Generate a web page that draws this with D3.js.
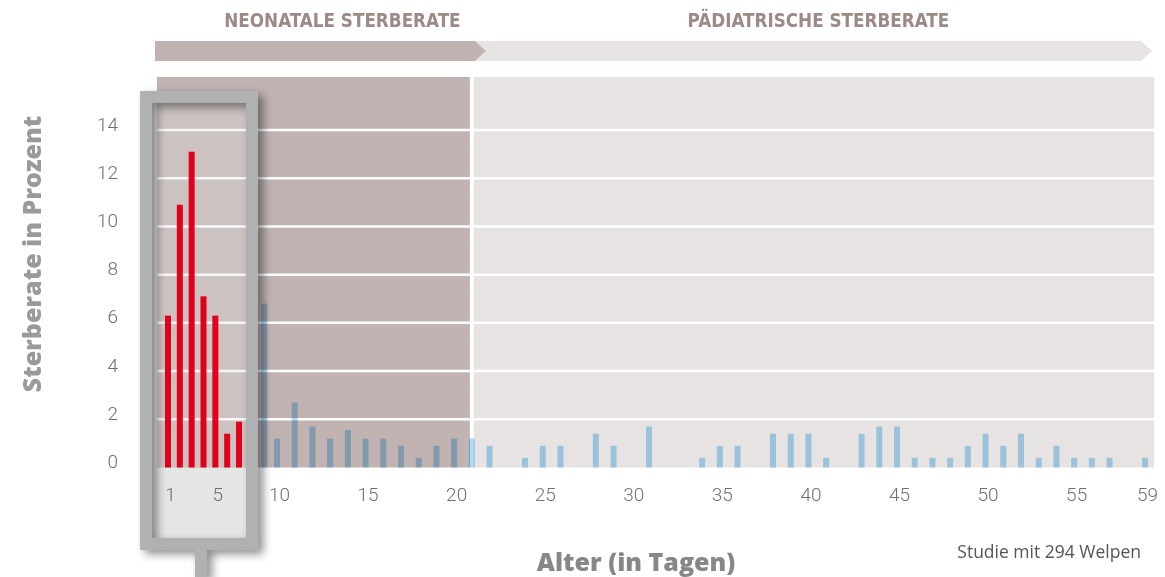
<!DOCTYPE html>
<html>
<head>
<meta charset="utf-8">
<script src="https://cdn.jsdelivr.net/npm/d3@7"></script>
<style>
  body { margin: 0; background: #fff; }
  .bar-blue { mix-blend-mode: multiply; }
</style>
</head>
<body>
<svg id="chart" width="1165" height="577"></svg>
<script>
// Alter in Tagen / Sterberate in Prozent
const days = [1, 2, 3, 4, 5, 6, 7,
  9, 10, 11, 12, 13, 14, 15, 16, 17, 18, 19, 20, 21,
  22, 24, 25, 26, 28, 29, 31, 34, 35, 36, 38, 39, 40, 41, 43, 44, 45,
  46, 47, 48, 49, 50, 51, 52, 53, 54, 55, 56, 57, 59];
const rates = [6.3, 10.9, 13.1, 7.1, 6.3, 1.4, 1.9,
  6.8, 1.2, 2.7, 1.7, 1.2, 1.55, 1.2, 1.2, 0.9, 0.4, 0.9, 1.2, 1.2,
  0.9, 0.4, 0.9, 0.9, 1.4, 0.9, 1.7, 0.4, 0.9, 0.9, 1.4, 1.4, 1.4, 0.4, 1.4, 1.7, 1.7,
  0.4, 0.4, 0.4, 0.9, 1.4, 0.9, 1.4, 0.4, 0.9, 0.4, 0.4, 0.4, 0.4];
const firstWeek = 7;           // last day drawn in red
const neonatalEnd = 21;        // day where the paediatric phase begins
const phaseLabels = ['NEONATALE STERBERATE', 'PÄDIATRISCHE STERBERATE'];
const xTicks = [1, 5, 10, 15, 20, 25, 30, 35, 40, 45, 50, 55, 59];
const yTicks = [0, 2, 4, 6, 8, 10, 12, 14];
const note = 'Studie mit 294 Welpen';

const plot = { left: 157, right: 1154, top: 77, bottom: 467.5 };
const svg = d3.select('#chart');

// first week is squeezed, rest runs linear
const x = d3.scaleLinear()
  .domain([1, 7, 10, 59])
  .range([168, 239, 277, 1145]);

const y = d3.scaleLinear()
  .domain([0, 14])
  .range([plot.bottom, 130]);

const split = x(neonatalEnd) - 2;

const defs = svg.append('defs');
defs.append('filter')
  .attr('id', 'shadow')
  .attr('x', '-20%').attr('y', '-20%').attr('width', '150%').attr('height', '150%')
  .append('feDropShadow')
  .attr('dx', 5).attr('dy', 4)
  .attr('stdDeviation', 5)
  .attr('flood-color', '#000')
  .attr('flood-opacity', 0.45);

// phase arrows on top
const band = { y0: 41, y1: 61, tip: 11 };
const arrow = (x0, x1) => {
  const ym = (band.y0 + band.y1) / 2;
  return `M${x0},${band.y0}H${x1}L${x1 + band.tip},${ym}L${x1},${band.y1}H${x0}Z`;
};
svg.append('path')
  .attr('d', arrow(split + 5, 1141))
  .attr('fill', '#e8e4e3');
svg.append('path')
  .attr('d', arrow(155, split + 5))
  .attr('fill', '#c1b3b2');

svg.append('g')
  .attr('font-family', '"DejaVu Sans Condensed", "DejaVu Sans", sans-serif')
  .attr('font-weight', 'bold')
  .attr('font-size', 18.7)
  .attr('fill', '#9d8986')
  .attr('text-anchor', 'middle')
  .selectAll('text')
  .data(phaseLabels)
  .join('text')
  .attr('x', (d, i) => i === 0 ? (155 + split) / 2 + 30 : (split + 1141) / 2 + 13)
  .attr('y', 27)
  .text(d => d);

// box interior (below plot part)
const box = { x0: 140, x1: 258, y0: 91, y1: 550, w: 12 };
svg.append('rect')
  .attr('x', box.x0 + box.w).attr('y', box.y0 + box.w)
  .attr('width', box.x1 - box.x0 - 2 * box.w)
  .attr('height', box.y1 - box.y0 - 2 * box.w)
  .attr('fill', '#e4e5e5');

// plot background
svg.append('rect')
  .attr('x', plot.left).attr('y', plot.top)
  .attr('width', split - plot.left).attr('height', plot.bottom - plot.top)
  .attr('fill', '#c1b3b2');
svg.append('rect')
  .attr('x', split + 4).attr('y', plot.top)
  .attr('width', plot.right - split - 4).attr('height', plot.bottom - plot.top)
  .attr('fill', '#e7e3e2');

// grid
svg.append('g')
  .selectAll('line')
  .data(yTicks.filter(d => d > 0))
  .join('line')
  .attr('x1', plot.left).attr('x2', plot.right)
  .attr('y1', d => y(d)).attr('y2', d => y(d))
  .attr('stroke', '#fff')
  .attr('stroke-width', 2.5);

// light veil inside the box
svg.append('rect')
  .attr('x', box.x0 + box.w).attr('y', box.y0 + box.w)
  .attr('width', box.x1 - box.x0 - 2 * box.w)
  .attr('height', plot.bottom - box.y0 - box.w)
  .attr('fill', '#e4e5e5')
  .attr('opacity', 0.3);

const data = days.map((d, i) => ({ day: d, rate: rates[i] }));
const barW = 6;

svg.append('g')
  .selectAll('rect')
  .data(data.filter(d => d.day > firstWeek))
  .join('rect')
  .attr('class', 'bar-blue')
  .attr('x', d => x(d.day) - barW / 2)
  .attr('y', d => y(d.rate))
  .attr('width', barW)
  .attr('height', d => y(0) - y(d.rate))
  .attr('fill', '#aadbf8');

svg.append('g')
  .selectAll('rect')
  .data(data.filter(d => d.day <= firstWeek))
  .join('rect')
  .attr('x', d => x(d.day) - barW / 2)
  .attr('y', d => y(d.rate))
  .attr('width', barW)
  .attr('height', d => y(0) - y(d.rate))
  .attr('fill', '#e2001a');

// frame of the first-week box
svg.append('path')
  .attr('d', `M${box.x0},${box.y0}H${box.x1}V${box.y1}H${box.x0}Z`
    + `M${box.x0 + box.w},${box.y0 + box.w}V${box.y1 - box.w}H${box.x1 - box.w}V${box.y0 + box.w}Z`
    + `M195,${box.y1}H207V577H195Z`)
  .attr('fill', '#b0b1b3')
  .attr('filter', 'url(#shadow)');

// axes
const yAxis = g => g
  .attr('transform', 'translate(118,0)')
  .call(d3.axisLeft(y).tickValues(yTicks).tickSize(0).tickPadding(0))
  .call(g => g.select('.domain').remove())
  .call(g => g.selectAll('text').attr('dy', '0.32em').attr('y', -6));

const xAxis = g => g
  .attr('transform', 'translate(0,484)')
  .call(d3.axisBottom(x).tickValues(xTicks).tickSize(0).tickPadding(3))
  .call(g => g.select('.domain').remove())
  .call(g => g.selectAll('text').attr('dx', 2));

svg.append('g').call(yAxis);
svg.append('g').call(xAxis);

svg.selectAll('.tick text')
  .attr('font-family', 'Roboto, sans-serif')
  .attr('font-weight', 300)
  .attr('font-size', 19)
  .attr('fill', '#6f6f6f');

// titles
svg.append('text')
  .attr('transform', 'translate(41,254) rotate(-90)')
  .attr('text-anchor', 'middle')
  .attr('font-family', '"Open Sans", sans-serif')
  .attr('font-weight', 800)
  .attr('font-size', 25)
  .attr('fill', '#9a9a9a')
  .text('Sterberate in Prozent');

svg.append('text')
  .attr('x', 636).attr('y', 571)
  .attr('text-anchor', 'middle')
  .attr('font-family', '"Open Sans", sans-serif')
  .attr('font-weight', 800)
  .attr('font-size', 25)
  .attr('fill', '#878787')
  .text('Alter (in Tagen)');

svg.append('text')
  .attr('x', 1141).attr('y', 558)
  .attr('text-anchor', 'end')
  .attr('font-family', '"Open Sans", sans-serif')
  .attr('font-size', 17.5)
  .attr('fill', '#555')
  .text(note);
</script>
</body>
</html>
